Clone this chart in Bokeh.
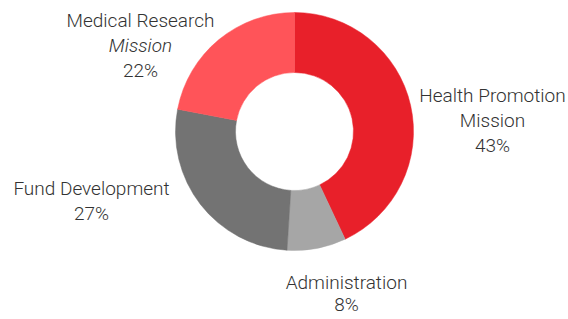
import numpy as np
from bokeh.plotting import figure
from bokeh.models import Range1d, ColumnDataSource
from bokeh.core.properties import value
from bokeh.embed import file_html
from bokeh.resources import INLINE

categories = ["Health Promotion Mission", "Administration", "Fund Development", "Medical Research Mission"]
shares = [43, 8, 27, 22]
colors = ["#E8202A", "#A6A6A6", "#737373", "#FF5459"]

# label lines per category: (text, italic?)
label_lines = [
    [("Health Promotion", False), ("Mission", False), ("43%", False)],
    [("Administration", False), ("8%", False)],
    [("Fund Development", False), ("27%", False)],
    [("Medical Research", False), ("Mission", True), ("22%", False)],
]

W, H = 568, 319
Y_OFF = 2
CX, CY_TOP = 294, 133          # centre, measured from the top
R_OUT, R_IN = 119, 59
# label anchors: centre x, first-line y (measured from the top), line step
label_anchor = [(492, 97, 25), (346, 284, 22), (91, 190, 25), (140, 22, 25)]

p = figure(width=W, height=H, output_backend="svg", toolbar_location=None,
           x_range=Range1d(0, W), y_range=Range1d(0, H), min_border=0)
p.axis.visible = False
p.grid.visible = False
p.outline_line_color = None
p.background_fill_color = "white"
p.border_fill_color = "white"

frac = np.array(shares, dtype=float) / sum(shares)
cum = np.cumsum(frac)
prev = np.concatenate([[0], cum[:-1]])
start = np.pi / 2 - 2 * np.pi * prev
end = np.pi / 2 - 2 * np.pi * cum

src = ColumnDataSource(dict(start=start, end=end, color=colors, cat=categories))
p.annular_wedge(x=CX, y=H - (CY_TOP - Y_OFF), inner_radius=R_IN, outer_radius=R_OUT,
                start_angle="start", end_angle="end", direction="clock",
                color="color", line_color="color", line_width=0.5, source=src)

xs, ys, txt, styles = [], [], [], []
for (ax, ay, step), lines in zip(label_anchor, label_lines):
    for i, (t, it) in enumerate(lines):
        xs.append(ax)
        ys.append(H - (ay - Y_OFF) - i * step)
        txt.append(t)
        styles.append("italic" if it else "normal")

tsrc = ColumnDataSource(dict(x=xs, y=ys, text=txt, style=styles))
p.text(x="x", y="y", text="text", source=tsrc, text_align="center",
       text_baseline="middle", text_font=value("Roboto Light"),
       text_font_size="19px", text_color="#333333", text_font_style="style")

open("out.html", "w").write(file_html(p, INLINE))
